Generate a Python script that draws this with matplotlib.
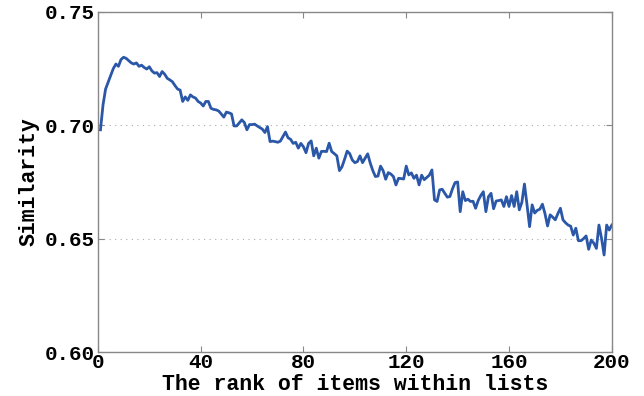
import numpy as np
import matplotlib
matplotlib.use("Agg")
import matplotlib.pyplot as plt

# similarity per rank position
ranks = np.arange(1, 201)
similarity = [
    0.6980, 0.7090, 0.7160, 0.7190, 0.7220, 0.7250, 0.7270, 0.7260, 0.7290, 0.7300,
    0.7295, 0.7285, 0.7275, 0.7270, 0.7275, 0.7260, 0.7265, 0.7255, 0.7248, 0.7258,
    0.7240, 0.7230, 0.7232, 0.7215, 0.7237, 0.7225, 0.7207, 0.7200, 0.7192, 0.7175,
    0.7160, 0.7155, 0.7105, 0.7125, 0.7110, 0.7134, 0.7125, 0.7120, 0.7105, 0.7098,
    0.7085, 0.7105, 0.7105, 0.7075, 0.7070, 0.7068, 0.7063, 0.7050, 0.7036, 0.7058,
    0.7055, 0.7050, 0.6997, 0.6997, 0.7010, 0.7024, 0.7012, 0.6980, 0.7003, 0.7003,
    0.7005, 0.6997, 0.6990, 0.6983, 0.6968, 0.6994, 0.6928, 0.6930, 0.6928, 0.6925,
    0.6930, 0.6950, 0.6970, 0.6945, 0.6938, 0.6920, 0.6925, 0.6899, 0.6920, 0.6905,
    0.6879, 0.6920, 0.6931, 0.6865, 0.6899, 0.6855, 0.6885, 0.6885, 0.6884, 0.6921,
    0.6884, 0.6875, 0.6865, 0.6800, 0.6817, 0.6850, 0.6886, 0.6875, 0.6847, 0.6835,
    0.6840, 0.6865, 0.6835, 0.6855, 0.6874, 0.6833, 0.6800, 0.6774, 0.6776, 0.6820,
    0.6800, 0.6762, 0.6791, 0.6785, 0.6774, 0.6737, 0.6766, 0.6765, 0.6763, 0.6820,
    0.6781, 0.6790, 0.6766, 0.6780, 0.6737, 0.6780, 0.6760, 0.6770, 0.6780, 0.6803,
    0.6671, 0.6664, 0.6715, 0.6718, 0.6700, 0.6683, 0.6686, 0.6720, 0.6747, 0.6750,
    0.6619, 0.6707, 0.6668, 0.6674, 0.6664, 0.6665, 0.6634, 0.6668, 0.6690, 0.6707,
    0.6619, 0.6685, 0.6700, 0.6632, 0.6666, 0.6668, 0.6671, 0.6642, 0.6685, 0.6642,
    0.6690, 0.6642, 0.6707, 0.6627, 0.6660, 0.6741, 0.6650, 0.6553, 0.6649, 0.6613,
    0.6625, 0.6630, 0.6652, 0.6610, 0.6556, 0.6605, 0.6595, 0.6583, 0.6610, 0.6634,
    0.6583, 0.6570, 0.6560, 0.6555, 0.6516, 0.6546, 0.6491, 0.6491, 0.6500, 0.6512,
    0.6453, 0.6494, 0.6480, 0.6457, 0.6560, 0.6502, 0.6428, 0.6560, 0.6538, 0.6560,
]
xticks = [0, 40, 80, 120, 160, 200]
yticks = [0.60, 0.65, 0.70, 0.75]

plt.rcParams['font.family'] = ['Liberation Mono', 'DejaVu Sans Mono']
plt.rcParams['font.weight'] = 'bold'

fig = plt.figure(figsize=(6.44, 3.96), dpi=100)
ax = fig.add_axes([0.152, 0.111, 0.798, 0.859])

ax.plot(ranks, similarity, color='#2a57a8', linewidth=2.0)

ax.set_xlim(0, 200)
ax.set_ylim(0.60, 0.75)
ax.set_xticks(xticks)
ax.set_yticks(yticks)
ax.set_xticklabels([str(t) for t in xticks], fontsize=15, fontweight='bold')
ax.set_yticklabels(['%.2f' % t for t in yticks], fontsize=15, fontweight='bold')

ax.tick_params(direction='in', top=True, right=True, length=4, width=0.8,
               color='#888888', pad=2)
ax.tick_params(axis='x', pad=1)
for s in ax.spines.values():
    s.set_color('#888888')
    s.set_linewidth(1.0)

ax.yaxis.grid(True, linestyle=(0, (1, 4)), color='#aaaaaa', linewidth=0.8)

ax.set_xlabel('The rank of items within lists', fontsize=15.5, fontweight='bold', labelpad=1)
ax.set_ylabel('Similarity', fontsize=15.5, fontweight='bold', labelpad=4)

fig.savefig('out.png', dpi=100)
